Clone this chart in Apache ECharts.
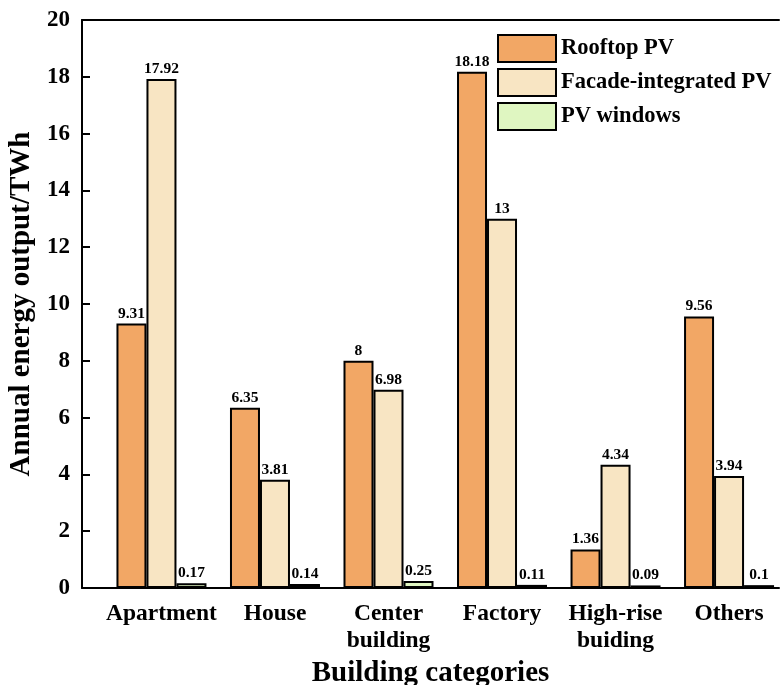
<!DOCTYPE html>
<html>
<head>
<meta charset="utf-8">
<script src="https://cdn.jsdelivr.net/npm/echarts@6/dist/echarts.min.js"></script>
<style>html,body{margin:0;padding:0;background:#fff;}#c{width:780px;height:685px;}</style>
</head>
<body>
<div id="c"></div>
<script>
var categories = ['Apartment', 'House', 'Center\nbuilding', 'Factory', 'High-rise\nbuiding', 'Others'];
var categoryPositions = [1, 2, 3, 4, 5, 6];
var rooftopPV = [9.31, 6.35, 8, 18.18, 1.36, 9.56];
var facadePV = [17.92, 3.81, 6.98, 13, 4.34, 3.94];
var pvWindows = [0.17, 0.14, 0.25, 0.11, 0.09, 0.1];
var yTicks = [0, 2, 4, 6, 8, 10, 12, 14, 16, 18, 20];

var FONT = '"Liberation Serif", "Times New Roman", serif';

function pairs(vals) {
  return vals.map(function (v, i) { return [categoryPositions[i], v]; });
}

function makeSeries(name, vals, color) {
  return {
    name: name,
    type: 'bar',
    data: pairs(vals),
    barWidth: 30,
    barGap: '0%',
    itemStyle: { color: color, borderColor: '#000', borderWidth: 2 },
    label: {
      show: true, position: 'top', distance: 2,
      fontFamily: FONT, fontWeight: 'bold', fontSize: 15.5, color: '#000',
      formatter: function (p) { return String(p.value[1]); }
    }
  };
}

var chart = echarts.init(document.getElementById('c'));
chart.setOption({
  animation: false,
  backgroundColor: '#fff',
  grid: { left: 82, right: 1, top: 20, bottom: 97, containLabel: false, outerBoundsMode: 'none' },
  legend: {
    orient: 'vertical',
    left: 492, top: 29,
    itemWidth: 58, itemHeight: 27, itemGap: 5,
    icon: 'rect',
    textStyle: { fontFamily: FONT, fontWeight: 'bold', fontSize: 22.5, color: '#000' },
    data: ['Rooftop PV', 'Facade-integrated PV', 'PV windows']
  },
  xAxis: [{
    type: 'value',
    min: 0.3, max: 6.44,
    position: 'bottom',
    name: 'Building categories',
    nameLocation: 'middle',
    nameGap: 66,
    nameTextStyle: { fontFamily: FONT, fontWeight: 'bold', fontSize: 29, color: '#000' },
    axisLine: { show: true, lineStyle: { color: '#000', width: 2 } },
    axisTick: { show: true, inside: true, length: 8, lineStyle: { color: '#000', width: 3 }, customValues: categoryPositions },
    axisLabel: {
      show: true, margin: 12, customValues: categoryPositions,
      fontFamily: FONT, fontWeight: 'bold', fontSize: 23.5, color: '#000', lineHeight: 27,
      formatter: function (v) { return categories[Math.round(v) - 1] || ''; }
    },
    splitLine: { show: false }
  }, {
    type: 'value',
    min: 0.3, max: 6.44,
    position: 'top',
    axisLine: { show: true, lineStyle: { color: '#000', width: 2 } },
    axisTick: { show: false }, axisLabel: { show: false }, splitLine: { show: false }
  }],
  yAxis: {
    type: 'value',
    min: 0, max: 20, interval: 2,
    name: 'Annual energy output/TWh',
    nameLocation: 'middle',
    nameGap: 44,
    nameTextStyle: { fontFamily: FONT, fontWeight: 'bold', fontSize: 29, color: '#000' },
    axisLine: { show: true, lineStyle: { color: '#000', width: 2 } },
    axisTick: { show: true, inside: true, length: 8, lineStyle: { color: '#000', width: 2 } },
    axisLabel: {
      margin: 12, fontFamily: FONT, fontWeight: 'bold', fontSize: 23, color: '#000',
      formatter: function (v) { return yTicks.indexOf(v) >= 0 ? String(v) : ''; }
    },
    splitLine: { show: false }
  },
  series: [
    makeSeries('Rooftop PV', rooftopPV, '#F2A765'),
    makeSeries('Facade-integrated PV', facadePV, '#F8E5C3'),
    makeSeries('PV windows', pvWindows, '#DFF6C1')
  ]
});
</script>
</body>
</html>
